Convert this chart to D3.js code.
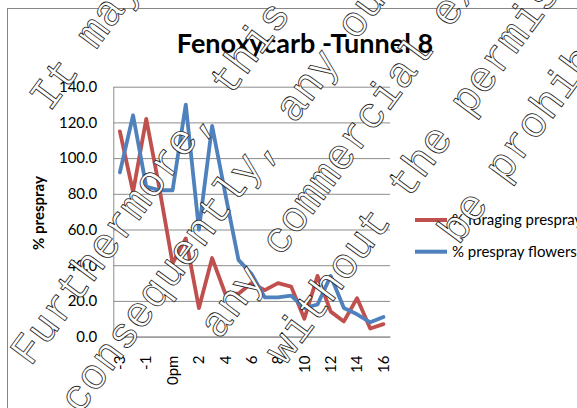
<!DOCTYPE html>
<html>
<head>
<meta charset="utf-8">
<script src="https://cdn.jsdelivr.net/npm/d3@7/dist/d3.min.js"></script>
<style>
  html, body { margin: 0; padding: 0; background: #fff; }
  svg { display: block; }
</style>
</head>
<body>
<svg id="chart" width="577" height="408"></svg>
<script>
// Hours relative to spraying
const categories = ["-3", "-2", "-1", "0am", "0pm", "1", "2", "3", "4", "5", "6", "7", "8", "9", "10", "11", "12", "13", "14", "15", "16"];
// % of prespray foraging activity
const foraging = [115, 81, 122, 83, 41, 55, 16, 44, 24, 24, 30, 26, 30, 28, 10, 34, 14, 8.5, 21.5, 4.5, 7];
// % of prespray flowers
const flowers = [92, 124, 84, 82, 82, 130, 60, 118, 80, 43, 35, 22, 22, 23, 16, 18, 34, 16, 12.5, 8, 11];
const yTicks = [0, 20, 40, 60, 80, 100, 120, 140];
const seriesNames = ["% foraging prespray", "% prespray flowers"];
const seriesColors = ["#C0504D", "#4F81BD"];
const titleText = "Fenoxycarb -Tunnel 8";
const yTitle = "% prespray";
// Diagonal notice printed over the page
const noticeLines = ["It may", "", "Furthermore, this document", "consequently, any outside", "any commercial exploitation", "without the permission", "be prohibited"];
const noticeStarts = [-61, 0, -277, -286, -143, -125, 75];

const svg = d3.select("#chart");
const font = "Lato, 'Open Sans', sans-serif";

// chart frame
svg.append("rect").attr("x", 0).attr("y", 0).attr("width", 577).attr("height", 408).attr("fill", "#fff");
svg.append("rect").attr("x", 7.5).attr("y", 8.5).attr("width", 600).attr("height", 420)
  .attr("fill", "none").attr("stroke", "#868686").attr("stroke-width", 1);

const plot = { left: 113.3, right: 390, top: 86.7, bottom: 336.6 };

const x = d3.scaleBand().domain(categories).range([plot.left, plot.right]).padding(0);
const y = d3.scaleLinear().domain([0, 140]).range([plot.bottom, plot.top]);

// horizontal gridlines
const grid = svg.append("g")
  .attr("transform", `translate(${plot.left},0)`)
  .call(d3.axisLeft(y).tickValues(yTicks).tickSize(-(plot.right - plot.left)).tickFormat(""));
grid.select(".domain").remove();
grid.selectAll(".tick line").attr("stroke", "#8c8c8c").attr("stroke-width", 1);

// value axis
const yAxis = svg.append("g")
  .attr("transform", `translate(${plot.left},0)`)
  .call(d3.axisLeft(y).tickValues(yTicks).tickSize(0).tickPadding(16).tickFormat(d3.format(".1f")));
yAxis.select(".domain").attr("stroke", "#8c8c8c");
yAxis.selectAll(".tick text").attr("font-family", font).attr("font-size", 15).attr("fill", "#000");

// category axis
const xAxis = svg.append("g")
  .attr("transform", `translate(0,${plot.bottom})`)
  .call(d3.axisBottom(x).tickValues(categories.filter((d, i) => i % 2 === 0)).tickSize(0));
xAxis.select(".domain").attr("stroke", "#8c8c8c");
xAxis.selectAll(".tick text")
  .attr("font-family", font).attr("font-size", 15).attr("fill", "#000")
  .attr("transform", "rotate(-90)")
  .attr("text-anchor", "end")
  .attr("x", -19).attr("y", 0).attr("dy", "0.35em");

// series lines
const line = d3.line().x((d, i) => x(categories[i]) + x.bandwidth() / 2).y(d => y(d));
[foraging, flowers].forEach((vals, k) => {
  svg.append("path").datum(vals)
    .attr("d", line)
    .attr("fill", "none")
    .attr("stroke", seriesColors[k])
    .attr("stroke-width", 3.8)
    .attr("stroke-linejoin", "round")
    .attr("stroke-linecap", "round");
});

// title
svg.append("text")
  .attr("x", 305).attr("y", 53)
  .attr("text-anchor", "middle")
  .attr("font-family", font).attr("font-weight", "bold").attr("font-size", 27)
  .attr("fill", "#000")
  .text(titleText);

// y axis title
svg.append("text")
  .attr("transform", "translate(43.5,213) rotate(-90)")
  .attr("text-anchor", "middle")
  .attr("font-family", font).attr("font-weight", "bold").attr("font-size", 15)
  .attr("fill", "#000")
  .text(yTitle);

// legend
const legend = svg.append("g");
seriesNames.forEach((name, k) => {
  const ly = 220 + k * 31.7;
  legend.append("line").attr("x1", 415).attr("x2", 447).attr("y1", ly).attr("y2", ly)
    .attr("stroke", seriesColors[k]).attr("stroke-width", 4);
  legend.append("text").attr("x", 452).attr("y", ly).attr("dy", "0.35em")
    .attr("font-family", font).attr("font-size", 15).attr("fill", "#000")
    .text(name);
});

// diagonal outlined notice
const notice = svg.append("g").attr("transform", "rotate(-53.5)");
noticeLines.forEach((t, k) => {
  if (!t) return;
  notice.append("text")
    .attr("x", noticeStarts[k]).attr("y", 107 + 68 * k)
    .attr("font-family", "'Liberation Mono', 'Courier New', monospace")
    .attr("font-size", 43)
    .attr("fill", "#fff").attr("stroke", "#222").attr("stroke-width", 0.8)
    .attr("xml:space", "preserve")
    .text(t);
});
</script>
</body>
</html>
